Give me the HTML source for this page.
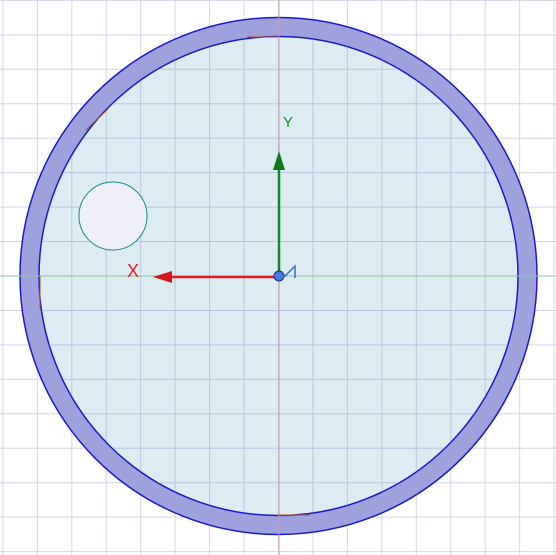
<!DOCTYPE html>
<html><head><meta charset="utf-8"><style>
html,body{margin:0;padding:0;background:#fff;width:556px;height:555px;overflow:hidden;}
svg{display:block;}
</style></head><body>
<svg width="556" height="555" viewBox="0 0 556 555">
<defs>
<clipPath id="inner"><circle cx="278.5" cy="276" r="239"/></clipPath>
</defs>
<rect width="556" height="555" fill="#ffffff"/>
<g id="gridOut" stroke="#d6d4ea" stroke-width="1"></g>
<circle cx="278.5" cy="276" r="258.5" fill="#9fa1dd" stroke="#1a1acc" stroke-width="1.5"/>
<circle cx="278.5" cy="276" r="239.5" fill="#ddecf3" stroke="#1a1acc" stroke-width="1.5"/>
<g id="gridIn" clip-path="url(#inner)" stroke="#bcc6e0" stroke-width="1"></g>
<line x1="0" y1="276" x2="556" y2="276" stroke="#8cc79a" stroke-width="1"/>
<line x1="279" y1="0" x2="279" y2="555" stroke="#cf9aa2" stroke-width="1"/>
<g stroke="#b5521c" stroke-width="1" fill="none">
<line x1="40" y1="276" x2="40" y2="308"/>
<line x1="278" y1="515" x2="310" y2="515"/>
<line x1="86" y1="130" x2="108" y2="109"/>
<line x1="247" y1="37" x2="278" y2="37"/>
</g>
<circle cx="113" cy="216" r="34" fill="#eeeff8" stroke="#138a8a" stroke-width="1"/>
<line x1="279" y1="276" x2="279" y2="170" stroke="#0e8a1e" stroke-width="2.5"/>
<polygon points="279,151 273,170 285,170" fill="#0d7a18"/>
<text x="283" y="127" font-family="Liberation Sans, sans-serif" font-size="15" fill="#10901e">Y</text>
<line x1="279" y1="277" x2="170" y2="277" stroke="#e81e1e" stroke-width="2.5"/>
<polygon points="153,277 172,271 172,283" fill="#d01818"/>
<text x="127" y="277" font-family="Liberation Sans, sans-serif" font-size="18" fill="#e82020">X</text>
<circle cx="279" cy="276" r="5" fill="#4a7ae0" stroke="#1e2a90" stroke-width="1"/>
<polyline points="283,278 295,266 295,278" fill="none" stroke="#3a68e0" stroke-width="1.5"/>
</svg>
<script>
var cx=278.5, cy=276, step=34.45;
function grid(id){
  var g=document.getElementById(id), ns="http://www.w3.org/2000/svg";
  for(var i=-8;i<=8;i++){
    var x=cx+i*step, y=cy+i*step;
    if(x>=0 && x<=556){
      var a=document.createElementNS(ns,"line");
      a.setAttribute("x1",x);a.setAttribute("x2",x);a.setAttribute("y1",0);a.setAttribute("y2",555);
      
      
      g.appendChild(a);
    }
    if(y>=0 && y<=555){
      var b=document.createElementNS(ns,"line");
      b.setAttribute("y1",y);b.setAttribute("y2",y);b.setAttribute("x1",0);b.setAttribute("x2",556);
      
      
      g.appendChild(b);
    }
  }
}
grid("gridOut");grid("gridIn");
</script>
</body></html>
